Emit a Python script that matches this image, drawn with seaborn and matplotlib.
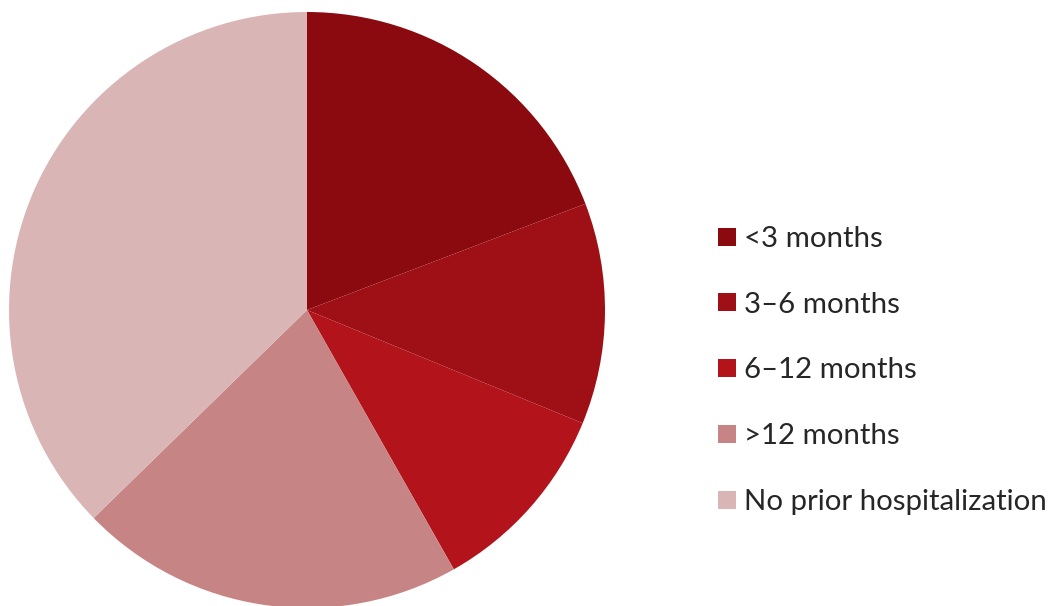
import matplotlib
matplotlib.use("Agg")
import matplotlib.pyplot as plt
from matplotlib.lines import Line2D
import seaborn as sns

categories = ["<3 months", "3\u20136 months", "6\u201312 months", ">12 months", "No prior hospitalization"]
shares = [19.2, 12.0, 10.6, 20.9, 37.3]
colors = ["#8A0A0F", "#9F1016", "#B3141B", "#C78484", "#DAB5B6"]

sns.set_theme(style="white")
plt.rcParams["font.family"] = ["Lato", "DejaVu Sans"]

W, H = 1051, 606
fig = plt.figure(figsize=(W / 100, H / 100), dpi=100)
fig.patch.set_facecolor("white")

# pie area in pixel terms: centre (307, 310), radius 298
cx, cy, r = 307, 310, 298
ax = fig.add_axes([(cx - r) / W, (H - cy - r) / H, 2 * r / W, 2 * r / H])
palette = sns.color_palette(colors)
ax.pie(shares, colors=palette, startangle=90, counterclock=False,
       radius=1.0, wedgeprops=dict(linewidth=0))
ax.set_xlim(-1, 1)
ax.set_ylim(-1, 1)
ax.set_aspect("equal")
ax.axis("off")

handles = [Line2D([], [], marker="s", linestyle="none", markersize=12.3,
                  markerfacecolor=c, markeredgewidth=0) for c in palette]
fig.legend(handles, categories, loc="upper left",
           bbox_to_anchor=(718 / W, 1 - 226 / H), frameon=False,
           fontsize=21.2, labelspacing=1.35, handlelength=0.6,
           handletextpad=0.28, borderpad=0, borderaxespad=0)

fig.savefig("out.png", dpi=100, facecolor="white")
